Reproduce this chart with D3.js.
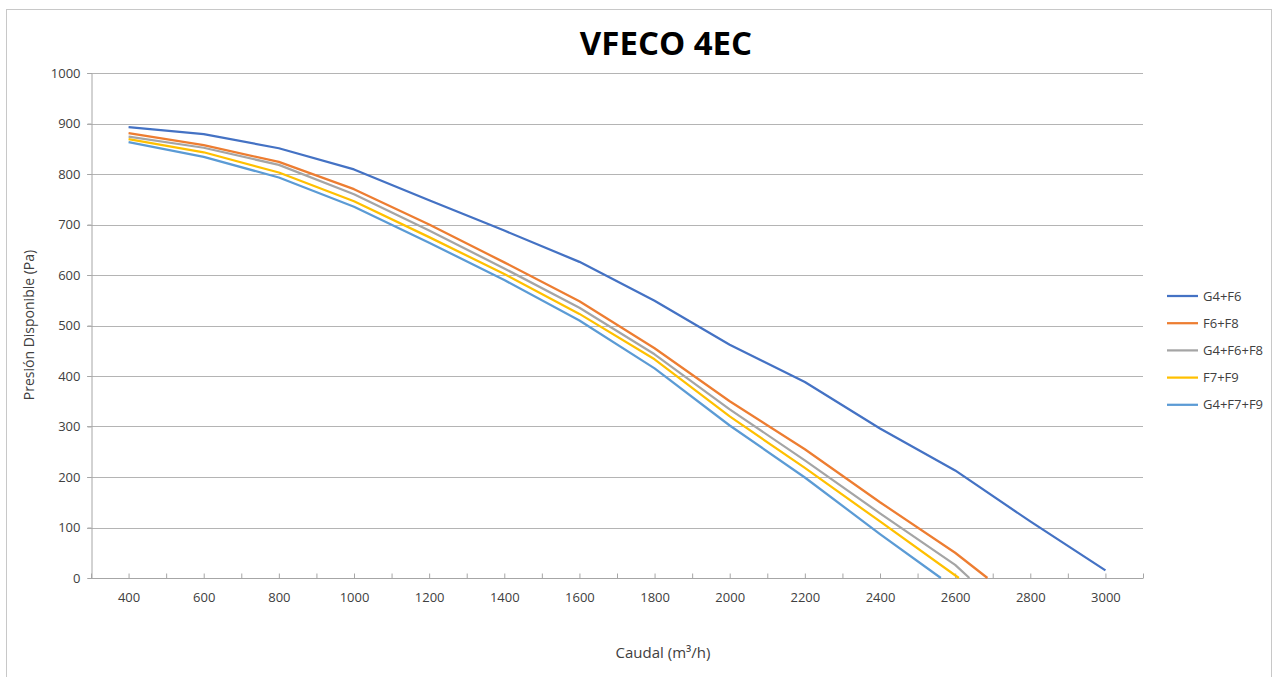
<!DOCTYPE html>
<html><head><meta charset="utf-8">
<script src="https://cdn.jsdelivr.net/npm/d3@7"></script>
<style>body{margin:0;background:#fff;} svg{display:block;}</style>
</head><body>
<svg id="c" width="1279" height="677"></svg>
<script>
const title = "VFECO 4EC";
const xLabel = "Caudal (m³/h)";
const yLabel = "Presión Disponible (Pa)";
const seriesNames = ["G4+F6","F6+F8","G4+F6+F8","F7+F9","G4+F7+F9"];
const seriesColors = ["#4472C4","#ED7D31","#A5A5A5","#FFC000","#5B9BD5"];
const xG4F6 = [400,600,800,1000,1200,1400,1600,1800,2000,2200,2400,2600,2800,3000];
const yG4F6 = [893,879,851,809,748,688,626,549,462,388,296,213,112,15];
const xF6F8 = [400,600,800,1000,1200,1400,1600,1800,2000,2200,2400,2600,2686];
const yF6F8 = [881,857,824,770,700,625,548,455,350,255,150,50,0];
const xG4F6F8 = [400,600,800,1000,1200,1400,1600,1800,2000,2200,2400,2600,2638];
const yG4F6F8 = [874,852,818,760,688,613,535,443,334,233,128,26,0];
const xF7F9 = [400,600,800,1000,1200,1400,1600,1800,2000,2200,2400,2610];
const yF7F9 = [869,843,803,746,675,602,523,433,320,218,112,0];
const xG4F7F9 = [400,600,800,1000,1200,1400,1600,1800,2000,2200,2400,2562];
const yG4F7F9 = [863,834,793,735,664,590,510,415,302,199,87,0];
const xTickLabels = [400,600,800,1000,1200,1400,1600,1800,2000,2200,2400,2600,2800,3000];
const xMinorTicks = d3.range(300, 3101, 100);
const yTicks = [0,100,200,300,400,500,600,700,800,900,1000];

const xs = [xG4F6,xF6F8,xG4F6F8,xF7F9,xG4F7F9];
const ys = [yG4F6,yF6F8,yG4F6F8,yF7F9,yG4F7F9];

const svg = d3.select("#c");
const font = "'Open Sans', 'Noto Sans', sans-serif";
const L=91, R=1143, T=73, B=578;
const x = d3.scaleLinear().domain([300,3100]).range([L,R]);
const y = d3.scaleLinear().domain([0,1000]).range([B,T]);

svg.append("rect").attr("x",6.5).attr("y",9.5).attr("width",1265).attr("height",700)
  .attr("fill","#fff").attr("stroke","#c8c8c8").attr("stroke-width",1);

svg.append("text").attr("x",666).attr("y",55).attr("text-anchor","middle")
  .attr("font-family",font).attr("font-weight","bold").attr("font-size",33).attr("fill","#000").text(title);

// gridlines
svg.append("g").selectAll("line").data(yTicks.filter(d=>d>0)).join("line")
  .attr("x1",L-4).attr("x2",R).attr("y1",d=>Math.round(y(d))+0.5).attr("y2",d=>Math.round(y(d))+0.5)
  .attr("stroke","#b4b4b4").attr("stroke-width",1);

// y axis
const yAxis = svg.append("g").attr("transform",`translate(${L+0.5},0)`)
  .call(d3.axisLeft(y).tickValues(yTicks).tickSize(4).tickPadding(7).tickFormat(d3.format("d")));
yAxis.select(".domain").attr("stroke","#a6a6a6");
yAxis.selectAll(".tick line").attr("stroke","#a6a6a6");
yAxis.selectAll("text").attr("font-family",font).attr("font-size",13).attr("fill","#404040");

// x axis
const xAxis = svg.append("g").attr("transform",`translate(0,${B+0.5})`)
  .call(d3.axisBottom(x).tickValues(xMinorTicks).tickSize(-5).tickPadding(14)
    .tickFormat(d=> xTickLabels.includes(d) ? d : ""));
xAxis.select(".domain").attr("stroke","#a6a6a6").attr("d",`M${L},0H${R}`);
xAxis.selectAll(".tick line").attr("stroke","#a6a6a6");
xAxis.selectAll("text").attr("font-family",font).attr("font-size",13).attr("fill","#404040");

// lines
const line = d3.line().x(d=>x(d[0])).y(d=>y(d[1]));
seriesNames.forEach((n,i)=>{
  const pts = xs[i].map((v,j)=>[v, ys[i][j]]);
  svg.append("path").datum(pts).attr("d",line).attr("fill","none")
    .attr("stroke",seriesColors[i]).attr("stroke-width",2.25).attr("stroke-linejoin","round");
});

// axis titles
svg.append("text").attr("transform","translate(34,325) rotate(-90)").attr("text-anchor","middle")
  .attr("font-family",font).attr("font-size",14).attr("fill","#404040").text(yLabel);
svg.append("text").attr("x",663).attr("y",658).attr("text-anchor","middle")
  .attr("font-family",font).attr("font-size",15).attr("fill","#404040").text(xLabel);

// legend
const lg = svg.append("g");
seriesNames.forEach((n,i)=>{
  const yy = 296 + i*27.2;
  lg.append("line").attr("x1",1167).attr("x2",1198).attr("y1",yy).attr("y2",yy)
    .attr("stroke",seriesColors[i]).attr("stroke-width",2.25);
  lg.append("text").attr("x",1203).attr("y",yy+4.5).attr("font-family",font).attr("font-size",13)
    .attr("fill","#404040").text(n);
});
</script>
</body></html>
